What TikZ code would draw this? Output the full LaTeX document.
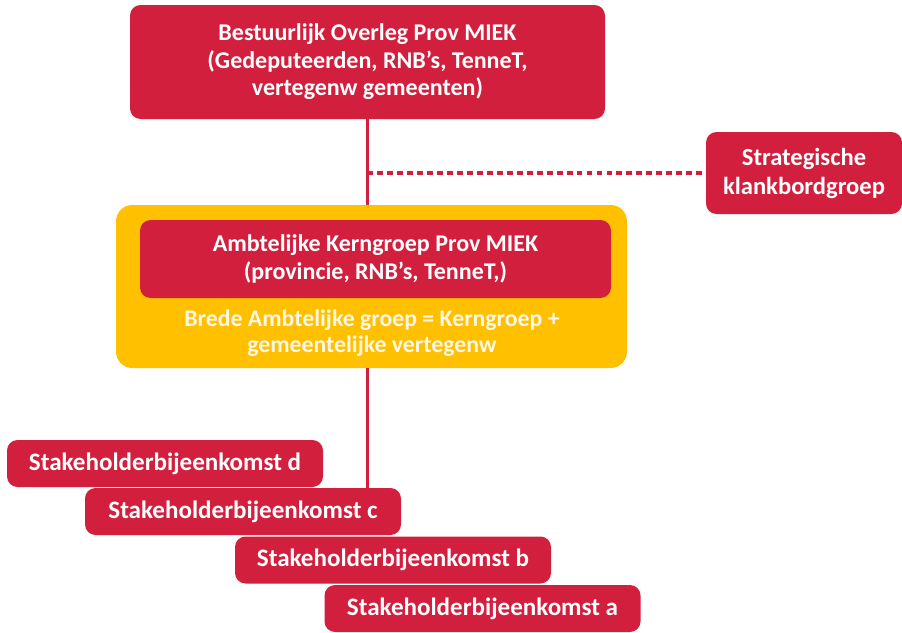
\documentclass[tikz,border=0pt]{standalone}
\usepackage{fontspec}
\setmainfont{Carlito}
\usetikzlibrary{positioning, calc}
\definecolor{miekred}{HTML}{D31F3E}
\definecolor{miekgold}{HTML}{FFC000}
\definecolor{lightcream}{HTML}{FFF6E6}

\begin{document}
\begin{tikzpicture}[
  orgbox/.style={rounded corners=9pt, fill=miekred, text=white, align=center,
                 font=\fontsize{20.5}{23.5}\selectfont\bfseries, inner sep=4pt},
  shbox/.style={orgbox, minimum width=9.48cm, minimum height=1.41cm,
                font=\fontsize{21.4}{24}\selectfont\bfseries},
  link/.style={miekred, line width=2.5pt},
]

% Canvas
\useasboundingbox (0,0) rectangle (27.06,-18.96);

% === Top: Bestuurlijk overleg ===
\node[orgbox, minimum width=14.25cm, minimum height=3.42cm] (bo) at (11.025,-1.86)
  {Bestuurlijk Overleg Prov MIEK\\(Gedeputeerden, RNB's, TenneT,\\vertegenw gemeenten)};

% === Side: klankbordgroep ===
\node[orgbox, minimum width=5.88cm, minimum height=2.46cm,
      font=\fontsize{21}{24.7}\selectfont\bfseries] (skg) at (24.12,-5.19)
  {Strategische\\klankbordgroep};

% === Middle: ambtelijke groep ===
\node[rounded corners=14pt, fill=miekgold, minimum width=15.33cm,
      minimum height=4.89cm] (bag) at (11.145,-8.595) {};
\node[orgbox, minimum width=14.13cm, minimum height=2.34cm] (akg) at (11.265,-7.77)
  {Ambtelijke Kerngroep Prov MIEK\\(provincie, RNB's, TenneT,)};
\node[font=\fontsize{20.3}{22}\selectfont\bfseries, text=lightcream, align=center]
  (bagtxt) at (11.16,-10.0)
  {Brede Ambtelijke groep = Kerngroep +\\gemeentelijke vertegenw};

% === Bottom: stakeholderbijeenkomsten ===
\node[shbox] (shd) at (4.95,-13.905) {Stakeholderbijeenkomst d};
\node[shbox] (shc) at (7.29,-15.345) {Stakeholderbijeenkomst c};
\node[shbox] (shb) at (11.79,-16.8) {Stakeholderbijeenkomst b};
\node[shbox] (sha) at (14.475,-18.255) {Stakeholderbijeenkomst a};

% Connectors
\coordinate (tap) at (bo.south |- skg.west);
\draw[link] (bo.south) -- (bag.north -| bo.south);
\draw[link] (bag.south -| bo.south) -- (shc.north -| bo.south);
\draw[miekred, line width=3.5pt, dash pattern=on 5pt off 3.5pt] (tap) -- (skg.west);

\end{tikzpicture}
\end{document}
